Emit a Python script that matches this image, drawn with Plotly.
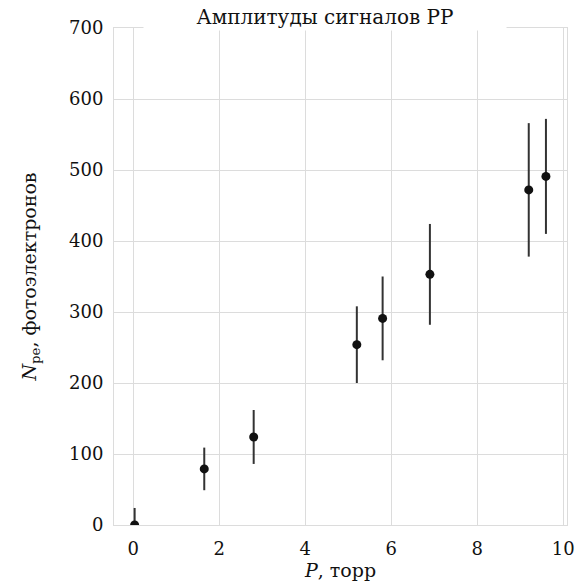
import plotly.graph_objects as go

# Pressure (torr) and photoelectron counts with uncertainties
pressure = [0.03, 1.65, 2.8, 5.2, 5.8, 6.9, 9.2, 9.6]
n_pe = [0, 79, 124, 254, 291, 353, 472, 491]
n_pe_err = [24, 30, 38, 54, 59, 71, 94, 81]

x_ticks = [0, 2, 4, 6, 8, 10]
y_ticks = [0, 100, 200, 300, 400, 500, 600, 700]

FONT = "DejaVu Serif"
GRID = "#dcdcdc"
INK = "#111111"

fig = go.Figure()
fig.add_trace(go.Scatter(
    x=pressure, y=n_pe,
    mode="markers",
    marker=dict(color=INK, size=9),
    error_y=dict(type="data", array=n_pe_err, visible=True,
                 color="#333333", thickness=2, width=0),
    showlegend=False,
))

fig.update_layout(
    width=580, height=583,
    margin=dict(l=114, r=13, t=28, b=58),
    paper_bgcolor="white", plot_bgcolor="white",
    font=dict(family=FONT, size=18, color=INK),
    xaxis=dict(
        range=[-0.45, 10.09], tickvals=x_ticks, ticks="",
        showgrid=True, gridcolor=GRID, gridwidth=1, zeroline=False,
        showline=True, linecolor=GRID, linewidth=1, mirror=True,
        automargin=False, ticklabelstandoff=7,
        tickfont=dict(family=FONT, size=18, color=INK),
        title=dict(text="<i>P</i>, торр", standoff=6,
                   font=dict(family=FONT, size=19, color=INK)),
    ),
    yaxis=dict(
        range=[0, 700], tickvals=y_ticks, ticks="",
        showgrid=True, gridcolor=GRID, gridwidth=1, zeroline=False,
        showline=True, linecolor=GRID, linewidth=1, mirror=True,
        automargin=False, ticklabelstandoff=6,
        tickfont=dict(family=FONT, size=18, color=INK),
        title=dict(text="<i>N</i><sub>pe</sub>, фотоэлектронов", standoff=27,
                   font=dict(family=FONT, size=19, color=INK)),
    ),
    annotations=[dict(
        text="Амплитуды сигналов РР",
        xref="paper", yref="paper", x=0.466, y=1,
        xanchor="center", yanchor="bottom", yshift=-3,
        showarrow=False, width=360, bgcolor="white",
        font=dict(family=FONT, size=20, color=INK),
    )],
)

fig.write_html("out.html")
